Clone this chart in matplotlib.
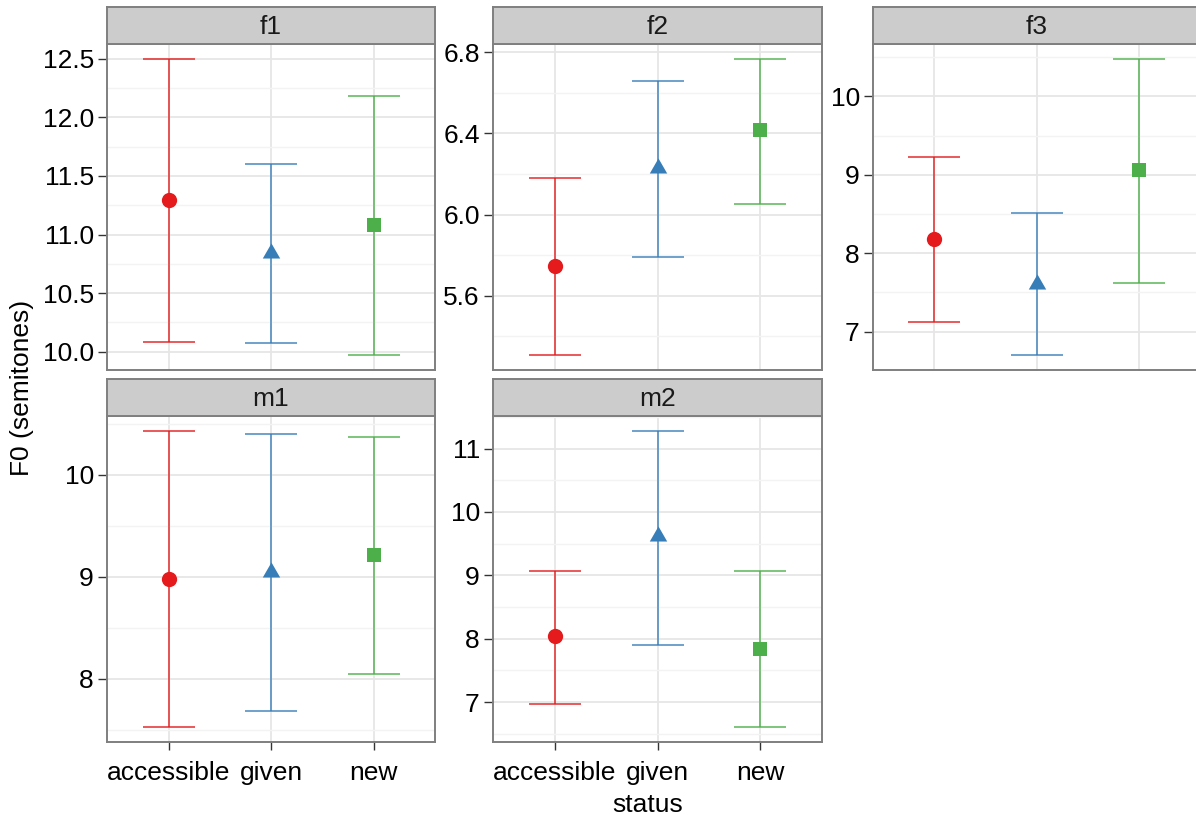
import matplotlib
matplotlib.use("Agg")
import matplotlib.pyplot as plt
from matplotlib.ticker import MultipleLocator, FormatStrFormatter
import numpy as np

plt.rcParams['font.family'] = ['Liberation Sans', 'DejaVu Sans']

# ---- data -------------------------------------------------------------
speakers = ['f1', 'f2', 'f3', 'm1', 'm2']
categories = ['accessible', 'given', 'new']

mean_f1 = [11.295, 10.84, 11.085]
mean_f2 = [5.748, 6.23, 6.418]
mean_f3 = [8.183, 7.61, 9.058]
mean_m1 = [8.98, 9.05, 9.208]
mean_m2 = [8.04, 9.625, 7.845]

lower_f1 = [10.08, 10.07, 9.97]
lower_f2 = [5.307, 5.791, 6.053]
lower_f3 = [7.12, 6.698, 7.615]
lower_m1 = [7.524, 7.685, 8.045]
lower_m2 = [6.975, 7.907, 6.605]

upper_f1 = [12.5, 11.598, 12.18]
upper_f2 = [6.182, 6.66, 6.767]
upper_f3 = [9.228, 8.511, 10.48]
upper_m1 = [10.43, 10.40, 10.367]
upper_m2 = [9.062, 11.28, 9.062]

means = dict(zip(speakers, [mean_f1, mean_f2, mean_f3, mean_m1, mean_m2]))
lowers = dict(zip(speakers, [lower_f1, lower_f2, lower_f3, lower_m1, lower_m2]))
uppers = dict(zip(speakers, [upper_f1, upper_f2, upper_f3, upper_m1, upper_m2]))

# ---- style ------------------------------------------------------------
colors = ['#E41A1C', '#377EB8', '#4DAF4A']
tri = [(0, 1.1547), (-1, -0.5774), (1, -0.5774), (0, 1.1547)]
markers = ['o', tri, 's']
msizes = [11, 14.5, 10]

y_step = {'f1': 0.5, 'f2': 0.4, 'f3': 1, 'm1': 1, 'm2': 1}
y_fmt = {'f1': '%.1f', 'f2': '%.1f', 'f3': '%d', 'm1': '%d', 'm2': '%d'}

W, H = 1196, 817
# panel boxes in pixels: (left, right, top, bottom)
boxes = {
    'f1': (107, 435, 44, 370),
    'f2': (493, 822, 44, 370),
    'f3': (873, 1200, 44, 370),
    'm1': (107, 435, 416, 742),
    'm2': (493, 822, 416, 742),
}
strip_h = 37
bottom_row = {'m1', 'm2'}

border = '#7F7F7F'
major_grid = '#E6E6E6'
minor_grid = '#F3F3F3'
fs = 19

fig = plt.figure(figsize=(W / 100, H / 100), dpi=100)

for sp in speakers:
    l, r, t, b = boxes[sp]
    ax = fig.add_axes([l / W, 1 - b / H, (r - l) / W, (b - t) / H])
    x = np.arange(1, len(categories) + 1)
    m, lo, hi = means[sp], lowers[sp], uppers[sp]

    for i in range(len(categories)):
        ax.errorbar(x[i], m[i], yerr=[[m[i] - lo[i]], [hi[i] - m[i]]],
                    fmt='none', ecolor=colors[i], elinewidth=1.2,
                    capsize=18.5, capthick=1.2, alpha=0.85, zorder=3)
        ax.plot(x[i], m[i], linestyle='none', marker=markers[i],
                markersize=msizes[i], color=colors[i],
                markeredgewidth=0, zorder=4)

    # y range: data extent plus 5% on each side
    ymin, ymax = min(lo), max(hi)
    pad = 0.05 * (ymax - ymin)
    ax.set_ylim(ymin - pad, ymax + pad)
    ax.set_xlim(0.4, len(categories) + 0.6)

    ax.yaxis.set_major_locator(MultipleLocator(y_step[sp]))
    ax.yaxis.set_minor_locator(MultipleLocator(y_step[sp] / 2))
    ax.yaxis.set_major_formatter(FormatStrFormatter(y_fmt[sp]))
    ax.set_xticks(x)

    ax.set_axisbelow(True)
    ax.grid(which='major', color=major_grid, linewidth=1.3, zorder=0)
    ax.grid(which='minor', axis='y', color=minor_grid, linewidth=1.0, zorder=0)

    for s in ax.spines.values():
        s.set_color(border)
        s.set_linewidth(1.4)

    ax.tick_params(axis='y', which='major', length=6.5, width=1.0,
                   color='#333333', labelsize=fs, pad=3, labelcolor='black')
    ax.tick_params(axis='y', which='minor', length=0)
    if sp in bottom_row:
        ax.set_xticklabels(categories)
        ax.tick_params(axis='x', length=6.0, width=1.0, color='#333333',
                       labelsize=fs, pad=7.5, labelcolor='black')
    else:
        ax.tick_params(axis='x', length=0, labelbottom=False)

    # facet strip
    sax = fig.add_axes([l / W, 1 - t / H, (r - l) / W, strip_h / H])
    sax.set_facecolor('#CCCCCC')
    sax.set_xticks([])
    sax.set_yticks([])
    for s in sax.spines.values():
        s.set_color(border)
        s.set_linewidth(1.4)
    sax.text(0.5, 0.45, sp, ha='center', va='center', fontsize=fs,
             color='#1A1A1A', transform=sax.transAxes)

fig.text(22 / W, 1 - 388 / H, 'F0 (semitones)', rotation=90,
         ha='center', va='center', fontsize=fs)
fig.text(648 / W, 1 - 812 / H, 'status', ha='center', va='baseline',
         fontsize=fs)

fig.savefig('out.png', dpi=100, facecolor='white')
